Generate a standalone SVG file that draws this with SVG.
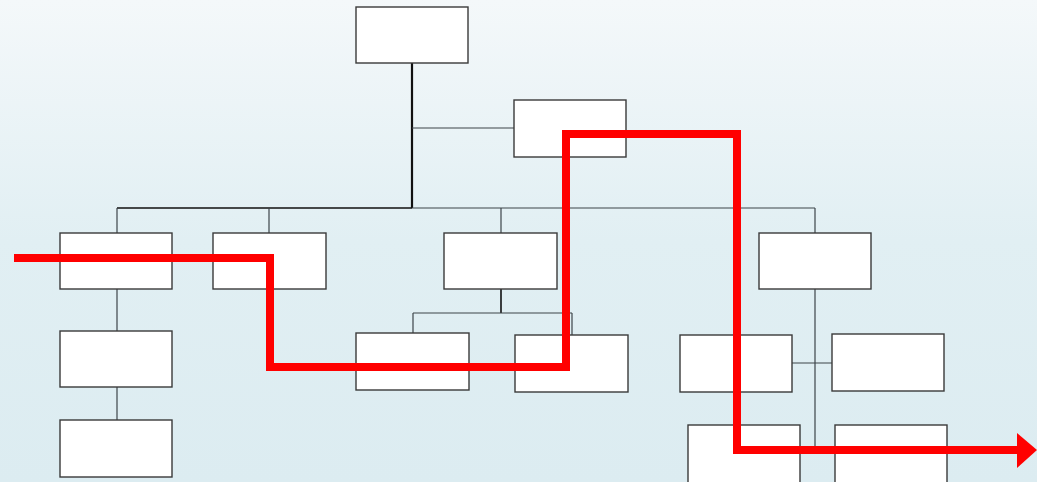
<svg xmlns="http://www.w3.org/2000/svg" width="1037" height="482" viewBox="0 0 1037 482">
<defs>
<linearGradient id="bg" x1="0" y1="0" x2="0" y2="1">
<stop offset="0" stop-color="#f4f8fa"/>
<stop offset="0.5" stop-color="#e1eff3"/>
<stop offset="1" stop-color="#dcecf1"/>
</linearGradient>
<style>
.box{fill:#ffffff;stroke:#3a3a3a;stroke-width:1.4}
.ln{fill:none;stroke:#3c4448;stroke-width:1.2}
.thick{fill:none;stroke:#111;stroke-width:2.2}
.red{fill:none;stroke:#ff0000;stroke-width:8;stroke-linejoin:miter}
</style>
</defs>
<rect width="1037" height="482" fill="url(#bg)"/>
<g id="connectors">
<line class="thick" x1="412" y1="63" x2="412" y2="208"/>
<line class="ln" x1="412" y1="128" x2="514" y2="128"/>
<line class="thick" x1="117" y1="208" x2="412" y2="208" style="stroke-width:1.6"/>
<line class="ln" x1="412" y1="208" x2="815" y2="208"/>
<line class="ln" x1="117" y1="208" x2="117" y2="233"/>
<line class="ln" x1="269" y1="208" x2="269" y2="233"/>
<line class="ln" x1="501" y1="208" x2="501" y2="233"/>
<line class="ln" x1="815" y1="208" x2="815" y2="233"/>
<line class="ln" x1="117" y1="289" x2="117" y2="331"/>
<line class="ln" x1="117" y1="387" x2="117" y2="420"/>
<line class="thick" x1="501" y1="289" x2="501" y2="313" style="stroke-width:1.6"/>
<line class="ln" x1="413" y1="313" x2="572" y2="313"/>
<line class="ln" x1="413" y1="313" x2="413" y2="333"/>
<line class="ln" x1="572" y1="313" x2="572" y2="335"/>
<line class="ln" x1="815" y1="289" x2="815" y2="450"/>
<line class="ln" x1="792" y1="363" x2="832" y2="363"/>
</g>
<g id="n-top"><rect class="box" x="356" y="7" width="112" height="56"/></g>
<g id="n-side"><rect class="box" x="514" y="100" width="112" height="57"/></g>
<g id="n-a"><rect class="box" x="60" y="233" width="112" height="56"/></g>
<g id="n-b"><rect class="box" x="213" y="233" width="113" height="56"/></g>
<g id="n-c"><rect class="box" x="444" y="233" width="113" height="56"/></g>
<g id="n-d"><rect class="box" x="759" y="233" width="112" height="56"/></g>
<g id="n-a2"><rect class="box" x="60" y="331" width="112" height="56"/></g>
<g id="n-a3"><rect class="box" x="60" y="420" width="112" height="57"/></g>
<g id="n-c1"><rect class="box" x="356" y="333" width="113" height="57"/></g>
<g id="n-c2"><rect class="box" x="515" y="335" width="113" height="57"/></g>
<g id="n-d1"><rect class="box" x="680" y="335" width="112" height="57"/></g>
<g id="n-d2"><rect class="box" x="832" y="334" width="112" height="57"/></g>
<g id="n-d3"><rect class="box" x="688" y="425" width="112" height="60"/></g>
<g id="n-d4"><rect class="box" x="835" y="425" width="112" height="60"/></g>
<g id="path">
<polyline class="red" points="14,258 270,258 270,367 566,367 566,134 737,134 737,450 1019,450"/>
<polygon points="1017,433 1037,450 1017,468" fill="#ff0000"/>
</g>
</svg>
